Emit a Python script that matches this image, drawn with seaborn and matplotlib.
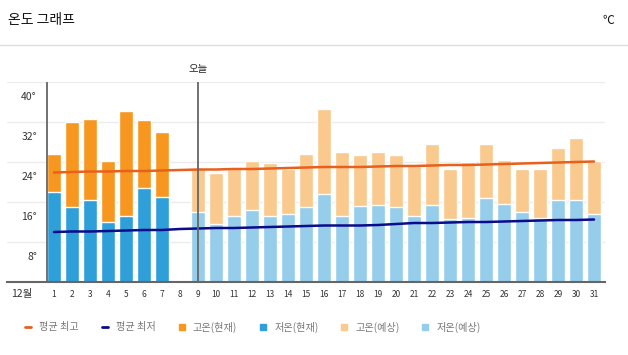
import numpy as np
import pandas as pd
import matplotlib
matplotlib.use("Agg")
import matplotlib.pyplot as plt
import seaborn as sns
from matplotlib.lines import Line2D
from matplotlib.patches import Patch

# data (December, degrees C)
days = list(range(1, 32))
high = [25.6, 31.9, 32.6, 24.1, 34.2, 32.4, 29.9, None, 22.7, 21.8,
        22.6, 24.2, 23.8, 22.6, 25.6, 34.6, 26.0, 25.4, 26.0, 25.4,
        23.2, 27.6, 22.6, 24.0, 27.6, 24.4, 22.6, 22.6, 26.8, 28.8, 24.1]
low = [18.0, 14.9, 16.4, 11.9, 13.1, 18.7, 16.9, None, 14.0, 11.7,
       13.2, 14.4, 13.2, 13.7, 15.0, 17.6, 13.2, 15.2, 15.3, 15.0,
       13.2, 15.4, 12.6, 12.8, 16.8, 15.6, 14.0, 12.8, 16.4, 16.4, 13.6]
avg_max = [21.9, 22.0, 22.1, 22.1, 22.2, 22.2, 22.3, 22.4, 22.5, 22.5,
           22.6, 22.6, 22.7, 22.8, 22.9, 23.0, 23.0, 23.0, 23.1, 23.2,
           23.2, 23.3, 23.4, 23.4, 23.5, 23.6, 23.7, 23.8, 23.9, 24.0, 24.1]
avg_min = [10.0, 10.1, 10.1, 10.2, 10.3, 10.4, 10.4, 10.6, 10.7, 10.8,
           10.8, 10.9, 11.0, 11.1, 11.2, 11.3, 11.3, 11.3, 11.4, 11.6,
           11.8, 11.8, 11.9, 12.0, 12.0, 12.1, 12.2, 12.3, 12.4, 12.4, 12.5]
today = 9
yticks = [8, 16, 24, 32, 40]

sns.set_theme(style="white")
plt.rcParams['font.family'] = ['Noto Sans CJK KR', 'DejaVu Sans']

c_hi_now = "#F7971F"
c_lo_now = "#2E9FD9"
c_hi_fc = "#FAC98E"
c_lo_fc = "#95CDEB"
c_max = "#E8601C"
c_min = "#0B0B8C"

df = pd.DataFrame({"day": days, "high": high, "low": low,
                   "avg_max": avg_max, "avg_min": avg_min})
df["kind"] = np.where(df["day"] < today, "now", "fc")
bars = df.dropna(subset=["high"])

fig = plt.figure(figsize=(6.28, 3.55), dpi=100)
ax = fig.add_axes([7 / 628, 73 / 355, 598 / 628, 200 / 355])

for v in yticks:
    ax.axhline(v, color="#ececec", lw=1, zorder=0)

sns.barplot(data=bars, x="day", y="high", hue="kind", native_scale=True,
            palette={"now": c_hi_now, "fc": c_hi_fc}, dodge=False,
            width=0.8, legend=False, ax=ax, zorder=1, saturation=1)
sns.barplot(data=bars, x="day", y="low", hue="kind", native_scale=True,
            palette={"now": c_lo_now, "fc": c_lo_fc}, dodge=False,
            width=0.8, legend=False, ax=ax, zorder=1.5, saturation=1)
sns.lineplot(data=df, x="day", y="avg_max", color=c_max, lw=1.8, ax=ax, zorder=4)
sns.lineplot(data=df, x="day", y="avg_min", color=c_min, lw=1.8, ax=ax, zorder=4)

ax.axvline(0.6, color="#666666", lw=1.3, zorder=5)
ax.axvline(today, color="#666666", lw=1.3, zorder=5)
ax.text(today, 41.5, "오늘", ha="center", va="bottom", fontsize=7.5, color="#222222")

ax.set_xlim(-1.61, 31.61)
ax.set_ylim(0, 40)
for s in ["top", "right", "left"]:
    ax.spines[s].set_visible(False)
ax.spines["bottom"].set_color("#666666")
ax.spines["bottom"].set_linewidth(1.5)
ax.spines["bottom"].set_zorder(6)
ax.set_yticks([])
ax.set_xticks(days)
ax.set_xticklabels([str(d) for d in days], fontsize=6, color="#333333")
ax.tick_params(axis="x", length=0, pad=6)
ax.set_xlabel("")
ax.set_ylabel("")
ax.text(-0.78, -2.3, "12월", ha="center", va="center", fontsize=7.5, color="#333333")
for v in yticks:
    ax.text(0.05, v - 3, f"{v}°", ha="right", va="center", fontsize=7.5, color="#333333")

fig.text(8 / 628, 1 - 20 / 355, "온도 그래프", ha="left", va="center", fontsize=10, color="#111111")
fig.text(614 / 628, 1 - 20 / 355, "℃", ha="right", va="center", fontsize=8.5, color="#111111")
fig.add_artist(Line2D([0, 1], [1 - 45 / 355] * 2, color="#dddddd", lw=1))

handles = [Line2D([0], [0], color=c_max, lw=2),
           Line2D([0], [0], color=c_min, lw=2),
           Patch(color=c_hi_now), Patch(color=c_lo_now),
           Patch(color=c_hi_fc), Patch(color=c_lo_fc)]
labels = ["평균 최고", "평균 최저", "고온(현재)", "저온(현재)", "고온(예상)", "저온(예상)"]
leg = fig.legend(handles, labels, loc="center left", bbox_to_anchor=(16 / 628, 1 - 327 / 355),
                 ncol=6, frameon=False, fontsize=7.3, handlelength=0.6, handleheight=0.6,
                 handletextpad=0.8, columnspacing=2.25)
for t in leg.get_texts():
    t.set_color("#777777")

fig.savefig("out.png", dpi=100)
